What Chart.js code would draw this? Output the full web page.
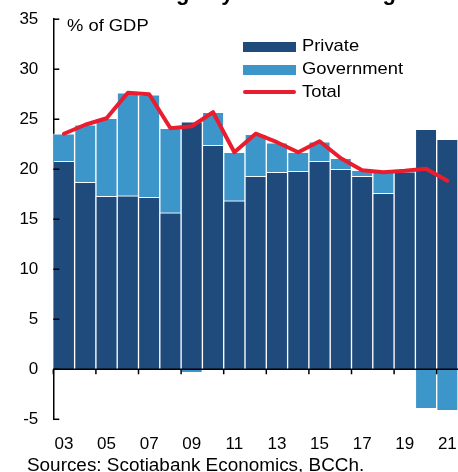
<!DOCTYPE html>
<html>
<head>
<meta charset="utf-8">
<script src="https://cdn.jsdelivr.net/npm/chart.js@4.4.1/dist/chart.umd.min.js"></script>
<style>
  html, body { margin: 0; padding: 0; background: #fff; overflow: hidden; }
  #wrap { position: relative; width: 458px; height: 472px; overflow: hidden; font-family: "Liberation Sans", Arial, sans-serif; color: #000; }
  #wrap canvas { position: absolute; left: 0; top: -6px; }
  .txt { position: absolute; white-space: nowrap; font-size: 17px; line-height: 20px; transform-origin: left top; transform: scaleX(1.08); }
  .title { position: absolute; white-space: nowrap; font-weight: bold; font-size: 22px; line-height: 22px; left: 50px; top: -18px; }
  .sw { position: absolute; left: 243px; width: 53px; }
</style>
</head>
<body>
<div id="wrap">
  <canvas id="c" width="458" height="478"></canvas>
  <div class="title">Chile: Savings by Sector Shifting</div>
  <div class="txt" style="left:67px; top:16px;">% of GDP</div>
  <div class="sw" style="top:42px; height:10px; background:#1F4A7C;"></div>
  <div class="txt" style="left:302px; top:36px;">Private</div>
  <div class="sw" style="top:65px; height:10px; background:#3D96CA;"></div>
  <div class="txt" style="left:302px; top:59px;">Government</div>
  <div class="sw" style="top:90px; height:4px; border-radius:2px; background:#EA1D2F;"></div>
  <div class="txt" style="left:302px; top:82px;">Total</div>
  <div class="txt" style="left:27px; top:455px; font-size:17.5px;">Sources: Scotiabank Economics, BCCh.</div>
</div>
<script>
const years = ['03','04','05','06','07','08','09','10','11','12','13','14','15','16','17','18','19','20','21'];
const privateSav = [20.8, 18.7, 17.3, 17.35, 17.2, 15.65, 24.75, 22.4, 16.85, 19.3, 19.7, 19.8, 20.8, 20.0, 19.3, 17.6, 19.75, 24.0, 23.0];
const governmentSav = [2.75, 5.75, 7.8, 10.3, 10.25, 8.45, -0.35, 3.3, 4.85, 4.2, 2.95, 1.9, 1.95, 1.1, 0.6, 2.1, 0.1, -3.95, -4.15];
const totalSav = [23.55, 24.45, 25.1, 27.65, 27.5, 24.1, 24.3, 25.7, 21.7, 23.55, 22.7, 21.7, 22.8, 21.1, 19.9, 19.7, 19.85, 20.05, 18.85];
const yTicks = [-5, 0, 5, 10, 15, 20, 25, 30, 35];

const NAVY = '#1F4A7C', LIGHT = '#3D96CA', RED = '#EA1D2F';
const FONT = { family: '"Liberation Sans", Arial, sans-serif', size: 17 };

const axisMarks = {
  id: 'axisMarks',
  afterDatasetsDraw(chart) {
    const {ctx, chartArea, scales: {x, y}} = chart;
    ctx.save();
    ctx.strokeStyle = '#000';
    ctx.lineWidth = 1.5;
    const y0 = y.getPixelForValue(0);
    ctx.beginPath();
    ctx.moveTo(chartArea.left, y0);
    ctx.lineTo(chartArea.right, y0);
    ctx.stroke();
    const half = (x.getPixelForValue(1) - x.getPixelForValue(0)) / 2;
    years.forEach((lab, i) => {
      if (i % 2 === 0) {
        const px = x.getPixelForValue(i) - half;
        ctx.beginPath();
        ctx.moveTo(px, y0);
        ctx.lineTo(px, y0 + 5);
        ctx.stroke();
      }
    });
    yTicks.forEach(v => {
      const py = y.getPixelForValue(v);
      ctx.beginPath();
      ctx.moveTo(chartArea.left, py);
      ctx.lineTo(chartArea.left + 6, py);
      ctx.stroke();
    });
    ctx.restore();
  }
};

new Chart(document.getElementById('c'), {
  data: {
    labels: years,
    datasets: [
      { type: 'line', label: 'Total', data: totalSav, borderColor: RED, borderWidth: 4, pointRadius: 0, tension: 0,
        borderJoinStyle: 'round', borderCapStyle: 'round', fill: false, stack: 'total', order: 0 },
      { type: 'bar', label: 'Private', data: privateSav, backgroundColor: NAVY, borderColor: 'rgba(255,255,255,0.8)',
        borderWidth: 1, stack: 's', order: 1, categoryPercentage: 1, barPercentage: 1 },
      { type: 'bar', label: 'Government', data: governmentSav, backgroundColor: LIGHT, borderColor: 'rgba(255,255,255,0.8)',
        borderWidth: 1, stack: 's', order: 1, categoryPercentage: 1, barPercentage: 1 }
    ]
  },
  options: {
    responsive: false,
    animation: false,
    layout: { padding: { left: 4.4, right: 0, top: 19.3, bottom: 2.3 } },
    plugins: { legend: { display: false }, tooltip: { enabled: false }, title: { display: false } },
    scales: {
      x: {
        stacked: true,
        offset: true,
        grid: { display: false, drawTicks: false },
        border: { display: false },
        ticks: {
          autoSkip: false, maxRotation: 0, padding: 0, color: '#000',
          font: Object.assign({}, FONT, { lineHeight: 2.965 }),
          callback: (v, i) => (i % 2 === 0 ? years[i] : '')
        }
      },
      y: {
        stacked: true,
        min: -5, max: 35,
        afterBuildTicks: (axis) => { axis.ticks = yTicks.map(v => ({ value: v })); },
        grid: { display: false, drawTicks: false },
        border: { display: true, color: '#000', width: 1.5 },
        ticks: { padding: 15, color: '#000', font: FONT }
      }
    }
  },
  plugins: [axisMarks]
});
</script>
</body>
</html>
